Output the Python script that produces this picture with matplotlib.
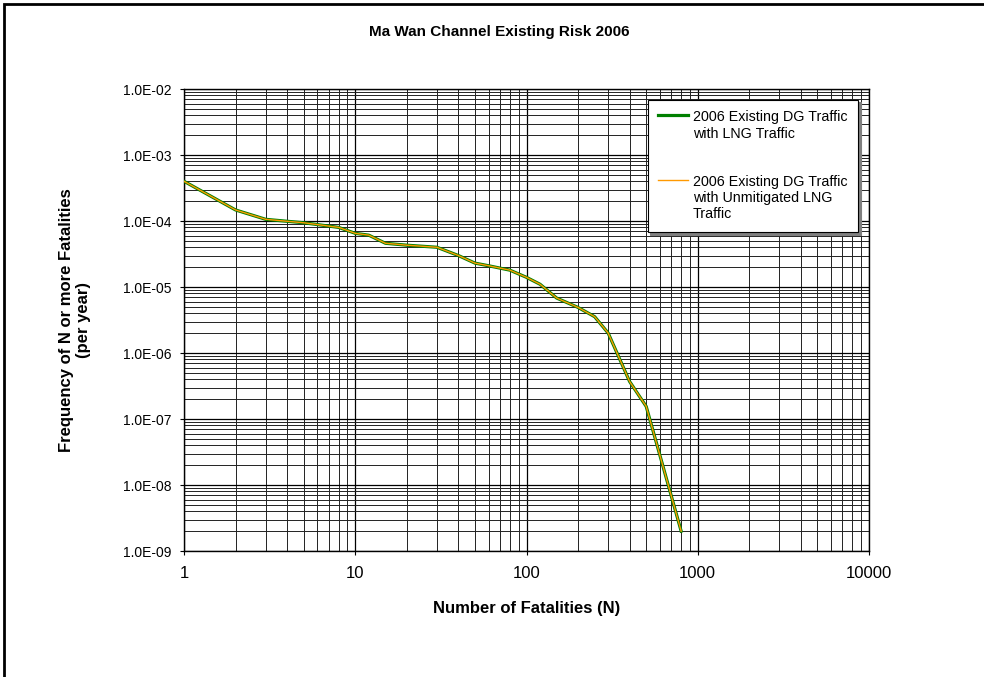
import numpy as np
import matplotlib
matplotlib.use("Agg")
import matplotlib.pyplot as plt
from matplotlib.ticker import LogLocator, FuncFormatter, NullFormatter
from matplotlib.patches import Rectangle

plt.rcParams['font.family'] = ['Liberation Sans', 'DejaVu Sans']

# ---- data ----
fatalities = [1, 2, 3, 5, 8, 10, 12, 15, 20, 30, 40, 50, 60, 80, 100, 120,
              150, 200, 250, 300, 400, 500, 800]
freq_lng = [4.0e-4, 1.47e-4, 1.06e-4, 9.4e-5, 8.0e-5, 6.5e-5, 6.1e-5, 4.6e-5,
            4.3e-5, 4.0e-5, 3.0e-5, 2.3e-5, 2.1e-5, 1.8e-5, 1.4e-5, 1.1e-5,
            6.8e-6, 4.9e-6, 3.55e-6, 2.0e-6, 3.7e-7, 1.55e-7, 2.0e-9]
freq_unmitigated = [4.0e-4, 1.47e-4, 1.06e-4, 9.4e-5, 8.0e-5, 6.5e-5, 6.1e-5, 4.6e-5,
                    4.3e-5, 4.0e-5, 3.0e-5, 2.3e-5, 2.1e-5, 1.8e-5, 1.4e-5, 1.1e-5,
                    6.8e-6, 4.9e-6, 3.55e-6, 2.0e-6, 3.7e-7, 1.55e-7, 2.0e-9]
series_labels = ["2006 Existing DG Traffic\nwith LNG Traffic",
                 "2006 Existing DG Traffic\nwith Unmitigated LNG\nTraffic"]
x_ticks = [1, 10, 100, 1000, 10000]
y_ticks = [1e-9, 1e-8, 1e-7, 1e-6, 1e-5, 1e-4, 1e-3, 1e-2]

W, H = 984, 677
fig = plt.figure(figsize=(W / 100, H / 100), dpi=100)
L, R, T, B = 184, 869, 89, 551
ax = fig.add_axes([L / W, 1 - B / H, (R - L) / W, (B - T) / H])

ax.plot(fatalities, freq_lng, color='#008000', lw=2.3, label=series_labels[0],
        solid_joinstyle='round', zorder=3)
ax.plot(fatalities, freq_unmitigated, color='#FF9900', lw=1.0, label=series_labels[1],
        zorder=4)

ax.set_xscale('log')
ax.set_yscale('log')

ax.xaxis.set_minor_locator(LogLocator(base=10, subs=np.arange(2, 10), numticks=100))
ax.yaxis.set_minor_locator(LogLocator(base=10, subs=np.arange(2, 10), numticks=100))
ax.set_xticks(x_ticks)
ax.set_yticks(y_ticks)
ax.xaxis.set_major_formatter(FuncFormatter(lambda v, p: f"{int(round(v))}"))
ax.yaxis.set_major_formatter(FuncFormatter(lambda v, p: f"{v:.1E}"))
ax.xaxis.set_minor_formatter(NullFormatter())
ax.yaxis.set_minor_formatter(NullFormatter())
ax.set_xlim(1, 10000)
ax.set_ylim(1e-9, 1e-2)

ax.tick_params(axis='x', which='major', direction='out', length=3, width=0.8,
               labelsize=12, pad=8)
ax.tick_params(axis='y', which='major', direction='out', length=3, width=0.8,
               labelsize=10, pad=6)
ax.tick_params(which='minor', length=0)

ax.grid(True, which='major', color='black', lw=0.9)
ax.grid(True, which='minor', color='#222222', lw=0.7)
ax.set_axisbelow(True)
for s in ax.spines.values():
    s.set_color('black')
    s.set_linewidth(1.0)

leg = ax.legend(loc='lower right', bbox_to_anchor=(858 / W, 1 - 232 / H),
                bbox_transform=fig.transFigure, fontsize=10.3, frameon=True,
                fancybox=False, edgecolor='black', framealpha=1,
                borderpad=0.75, labelspacing=2.4, handlelength=2.1,
                handletextpad=0.3, borderaxespad=0,
                shadow={'color': '#808080', 'alpha': 1})
leg.get_frame().set_linewidth(0.8)
try:
    for col in leg._legend_handle_box.get_children():
        for hp in col.get_children():
            hp.align = "top"
except Exception:
    pass

fig.text(499 / W, 1 - 32 / H, "Ma Wan Channel Existing Risk 2006",
         ha='center', va='center', fontsize=11, fontweight='bold')
fig.text((L + R) / 2 / W, 1 - 608 / H, "Number of Fatalities (N)",
         ha='center', va='center', fontsize=12, fontweight='bold')
fig.text(75 / W, 1 - 320 / H, "Frequency of N or more Fatalities\n(per year)",
         ha='center', va='center', rotation=90, fontsize=12, fontweight='bold',
         multialignment='center', linespacing=1.15)

border = Rectangle((4 / W, -0.2), 1.5, 1.2 - 4 / H, transform=fig.transFigure,
                   fill=False, edgecolor='black', lw=2.0, clip_on=False)
fig.patches.append(border)

fig.savefig("out.png", dpi=100, facecolor='white')
